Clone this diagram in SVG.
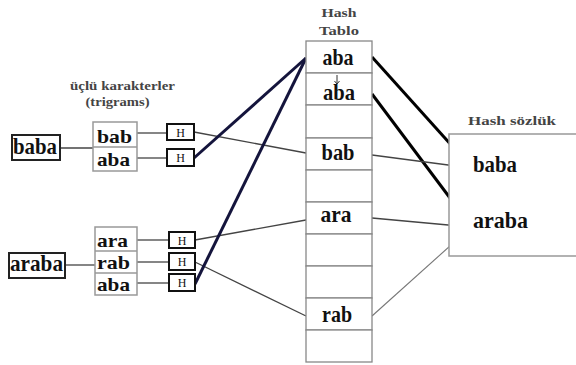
<svg xmlns="http://www.w3.org/2000/svg" width="576" height="365" viewBox="0 0 576 365">
<style>
text{font-family:"Liberation Serif","Times New Roman",serif;font-weight:bold;fill:#111}
.lab{font-size:13px;fill:#444}
.big{font-size:23px}
.tri{font-size:19.5px}
.h{font-size:12px;font-weight:normal;text-anchor:middle}
.mid{text-anchor:middle}
.wbox{fill:#fff;stroke:#222;stroke-width:2}
.gbox{fill:#fff;stroke:#999;stroke-width:1.5}
.hbox{fill:#fff;stroke:#111;stroke-width:2}
.cell{fill:#fff;stroke:#888;stroke-width:1.3}
.thin{stroke:#444;stroke-width:1.3;fill:none}
.thinl{stroke:#777;stroke-width:1.1;fill:none}
.navy{stroke:#14143c;stroke-width:3;fill:none}
.blk{stroke:#000;stroke-width:3;fill:none}
</style>

<text class="lab mid" x="122.5" y="90" textLength="105" lengthAdjust="spacingAndGlyphs">üçlü karakterler</text>
<text class="lab mid" x="117.5" y="106" textLength="64" lengthAdjust="spacingAndGlyphs">(trigrams)</text>

<g id="hash-tablo-label">
<text class="lab mid" x="339" y="17" textLength="35" lengthAdjust="spacingAndGlyphs">Hash</text>
<text class="lab mid" x="339" y="35" textLength="40" lengthAdjust="spacingAndGlyphs">Tablo</text>
</g>

<g id="connectors">
<line class="thin" x1="60" y1="148" x2="93" y2="148"/>
<line class="thin" x1="137" y1="133" x2="167" y2="133"/>
<line class="thin" x1="137" y1="158" x2="167" y2="158"/>
<line class="thin" x1="65" y1="265" x2="95" y2="265"/>
<line class="thin" x1="137" y1="240" x2="169" y2="240"/>
<line class="thin" x1="137" y1="262" x2="169" y2="262"/>
<line class="thin" x1="137" y1="283" x2="169" y2="283"/>
<line class="thin" x1="194" y1="132" x2="306" y2="153"/>
<line class="thin" x1="195" y1="240" x2="306" y2="220"/>
<line class="thin" x1="195" y1="262" x2="306" y2="316"/>
<line class="navy" x1="194" y1="158" x2="306" y2="58"/>
<line class="navy" x1="195" y1="284" x2="306" y2="58"/>
<line class="blk" x1="372" y1="57" x2="471" y2="167"/>
<line class="blk" x1="372" y1="94" x2="471" y2="226"/>
<line class="thin" x1="372" y1="155" x2="471" y2="168"/>
<line class="thin" x1="372" y1="218" x2="470" y2="227"/>
<line class="thinl" x1="372" y1="316" x2="470" y2="228"/>
</g>

<g id="baba">
<rect class="wbox" x="12" y="135" width="48" height="25"/>
<text class="big" x="13" y="154" textLength="44" lengthAdjust="spacingAndGlyphs">baba</text>
</g>
<g id="baba-trigrams">
<rect class="gbox" x="93" y="122" width="44" height="49"/>
<line stroke="#999" stroke-width="1.5" x1="93" y1="147" x2="137" y2="147"/>
<text class="tri" x="97" y="142.5" textLength="35" lengthAdjust="spacingAndGlyphs">bab</text>
<text class="tri" x="97" y="165.5" textLength="33" lengthAdjust="spacingAndGlyphs">aba</text>
</g>
<g id="h1"><rect class="hbox" x="167" y="124" width="27" height="16"/><text class="h" x="180.5" y="137">H</text></g>
<g id="h2"><rect class="hbox" x="167" y="149" width="27" height="17"/><text class="h" x="180.5" y="162">H</text></g>

<g id="araba">
<rect class="wbox" x="9" y="253" width="56" height="25"/>
<text class="big" x="10" y="271" textLength="53" lengthAdjust="spacingAndGlyphs">araba</text>
</g>
<g id="araba-trigrams">
<rect class="gbox" x="95" y="227" width="42" height="68"/>
<line stroke="#999" stroke-width="1.5" x1="95" y1="251" x2="137" y2="251"/>
<line stroke="#999" stroke-width="1.5" x1="95" y1="273" x2="137" y2="273"/>
<text class="tri" x="97" y="246.5" textLength="31" lengthAdjust="spacingAndGlyphs">ara</text>
<text class="tri" x="97" y="268.5" textLength="33" lengthAdjust="spacingAndGlyphs">rab</text>
<text class="tri" x="97" y="290.5" textLength="33" lengthAdjust="spacingAndGlyphs">aba</text>
</g>
<g id="h3"><rect class="hbox" x="169" y="232" width="26" height="16"/><text class="h" x="182" y="245">H</text></g>
<g id="h4"><rect class="hbox" x="169" y="253" width="26" height="17"/><text class="h" x="182" y="266">H</text></g>
<g id="h5"><rect class="hbox" x="169" y="274" width="26" height="17"/><text class="h" x="182" y="287">H</text></g>

<g id="hash-tablo">
<rect class="cell" x="306" y="41" width="66" height="32"/>
<rect class="cell" x="306" y="73" width="66" height="32"/>
<rect class="cell" x="306" y="105" width="66" height="33"/>
<rect class="cell" x="306" y="138" width="66" height="32"/>
<rect class="cell" x="306" y="170" width="66" height="32"/>
<rect class="cell" x="306" y="202" width="66" height="32"/>
<rect class="cell" x="306" y="234" width="66" height="32"/>
<rect class="cell" x="306" y="266" width="66" height="32"/>
<rect class="cell" x="306" y="298" width="66" height="32"/>
<rect class="cell" x="306" y="330" width="66" height="32"/>
<text class="big mid" x="338" y="65" textLength="31" lengthAdjust="spacingAndGlyphs">aba</text>
<path d="M337,75 V84 M334.5,81 L337,84 L339.5,81" fill="none" stroke="#333" stroke-width="1"/>
<text class="big mid" x="339" y="100" textLength="32" lengthAdjust="spacingAndGlyphs">aba</text>
<text class="big mid" x="338" y="160" textLength="33" lengthAdjust="spacingAndGlyphs">bab</text>
<text class="big mid" x="336" y="222" textLength="31" lengthAdjust="spacingAndGlyphs">ara</text>
<text class="big mid" x="337" y="322" textLength="30" lengthAdjust="spacingAndGlyphs">rab</text>
</g>

<g id="hash-sozluk">
<text class="lab mid" x="512" y="125" textLength="88" lengthAdjust="spacingAndGlyphs">Hash sözlük</text>
<rect class="gbox" x="449" y="134" width="130" height="122"/>
<text class="big" x="473" y="172" textLength="44" lengthAdjust="spacingAndGlyphs">baba</text>
<text class="big" x="473" y="228" textLength="55" lengthAdjust="spacingAndGlyphs">araba</text>
</g>
</svg>
